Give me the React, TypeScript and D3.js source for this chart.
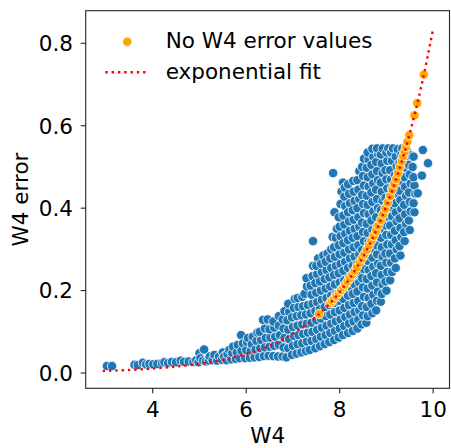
import React from 'react';
import * as d3 from 'd3';

const xTicks = [4, 6, 8, 10];
const yTicks = [0.0, 0.2, 0.4, 0.6, 0.8];
const xLabel = 'W4';
const yLabel = 'W4 error';
const legendLabels = ['No W4 error values', 'exponential fit'];

// exponential fit line
const fitX = [2.93, 3.25, 3.5, 3.75, 4.0, 4.25, 4.5, 4.75, 5.0, 5.25, 5.5, 5.75, 6.0, 6.25, 6.5, 6.75, 7.0, 7.25, 7.5, 7.75, 8.0, 8.25, 8.5, 8.75, 9.0, 9.25, 9.5, 9.75, 10.0];
const fitY = [0.005, 0.0063, 0.0075, 0.009, 0.0108, 0.013, 0.0156, 0.0187, 0.0224, 0.0268, 0.0321, 0.0385, 0.0461, 0.0553, 0.0663, 0.0794, 0.0952, 0.1141, 0.1367, 0.1638, 0.1963, 0.2352, 0.2819, 0.3378, 0.4049, 0.4852, 0.5814, 0.6968, 0.835];

// "No W4 error values" points (orange)
const noErrX = [7.56, 7.8, 7.84, 7.88, 7.93, 7.98, 8.03, 8.08, 8.12, 8.17, 8.22, 8.27, 8.32, 8.37, 8.43, 8.48, 8.53, 8.58, 8.63, 8.68, 8.73, 8.78, 8.83, 8.88, 8.93, 8.98, 9.03, 9.08, 9.13, 9.17, 9.21, 9.25, 9.29, 9.33, 9.36, 9.39, 9.42, 9.45, 9.49, 9.6, 9.66, 9.8];
const noErrY = [0.143, 0.17, 0.175, 0.18, 0.187, 0.194, 0.201, 0.208, 0.214, 0.222, 0.23, 0.239, 0.248, 0.257, 0.268, 0.278, 0.288, 0.299, 0.31, 0.321, 0.333, 0.345, 0.358, 0.371, 0.385, 0.399, 0.414, 0.429, 0.445, 0.458, 0.471, 0.485, 0.5, 0.514, 0.526, 0.537, 0.549, 0.561, 0.577, 0.625, 0.655, 0.724];

// measured points (blue), [W4, W4 error]
const cloud: number[][] = [
  [3.02,0.017],[3.13,0.017],[3.61,0.02],[3.68,0.019],[3.79,0.025],[3.86,0.021],[3.93,0.022],[4.01,0.021],[4.1,0.022],[4.2,0.024],[4.25,0.026],[4.33,0.024],[4.41,0.027],[4.5,0.026],[4.6,0.03],[4.67,0.027],[4.77,0.028],[4.87,0.027],[4.93,0.031],[4.98,0.026],
  [5.0,0.048],[5.02,0.036],[5.08,0.03],[5.1,0.057],[5.14,0.028],[5.2,0.03],[5.22,0.04],[5.28,0.031],[5.32,0.044],[5.38,0.03],[5.42,0.04],[5.48,0.032],[5.5,0.05],[5.53,0.04],[5.58,0.031],[5.6,0.046],[5.64,0.056],[5.68,0.033],[5.7,0.048],[5.72,0.064],[5.78,0.034],[5.8,0.05],[5.82,0.068],[5.86,0.036],[5.89,0.092],[5.9,0.054],[5.93,0.072],[5.98,0.036],
  [6.0,0.056],[6.02,0.075],[6.04,0.085],[6.08,0.037],[6.1,0.054],[6.12,0.07],[6.14,0.088],[6.18,0.038],[6.2,0.057],[6.22,0.078],[6.24,0.098],[6.28,0.039],[6.3,0.06],[6.32,0.08],[6.29,0.1],
  [6.38,0.041],[6.4,0.062],[6.42,0.085],[6.4,0.108],[6.36,0.129],
  [6.48,0.042],[6.5,0.064],[6.52,0.086],[6.5,0.106],[6.46,0.13],
  [6.58,0.041],[6.6,0.066],[6.62,0.088],[6.6,0.11],[6.58,0.125],
  [6.68,0.04],[6.7,0.068],[6.72,0.092],[6.7,0.115],[6.7,0.138],
  [6.78,0.04],[6.8,0.062],[6.82,0.085],[6.8,0.108],[6.78,0.13],[6.82,0.15],
  [6.86,0.038],[6.9,0.06],[6.92,0.082],[6.9,0.105],[6.88,0.128],[6.92,0.148],[6.9,0.168],
  [6.98,0.044],[7.0,0.066],[7.02,0.09],[7.0,0.112],[6.98,0.135],[7.02,0.158],[7.04,0.18],
  [7.08,0.047],[7.1,0.07],[7.12,0.092],[7.1,0.115],[7.08,0.138],[7.12,0.16],[7.1,0.182],
  [7.18,0.05],[7.2,0.072],[7.22,0.095],[7.2,0.118],[7.18,0.14],[7.22,0.162],[7.2,0.185],
  [7.28,0.053],[7.3,0.076],[7.32,0.098],[7.3,0.12],[7.28,0.142],[7.32,0.165],[7.25,0.192],[7.3,0.21],[7.29,0.23],
  [7.36,0.056],[7.4,0.078],[7.42,0.1],[7.4,0.122],[7.38,0.145],[7.42,0.168],[7.4,0.19],[7.38,0.212],[7.42,0.235],[7.43,0.26],[7.43,0.32],
  [7.48,0.06],[7.5,0.082],[7.52,0.105],[7.5,0.128],[7.48,0.15],[7.52,0.172],[7.5,0.195],[7.48,0.218],[7.52,0.24],[7.54,0.278],[7.5,0.26],
  [7.58,0.065],[7.6,0.088],[7.62,0.11],[7.6,0.132],[7.58,0.155],[7.62,0.178],[7.6,0.2],[7.58,0.222],[7.62,0.245],[7.6,0.265],[7.65,0.285],
  [7.68,0.07],[7.7,0.092],[7.72,0.115],[7.7,0.138],[7.68,0.16],[7.72,0.182],[7.7,0.205],[7.68,0.228],[7.72,0.25],[7.7,0.27],[7.74,0.29],
  [7.78,0.075],[7.8,0.097],[7.82,0.12],[7.8,0.142],[7.78,0.165],[7.82,0.188],[7.8,0.21],[7.78,0.232],[7.82,0.255],[7.8,0.278],[7.82,0.3],[7.85,0.33],
  [7.88,0.08],[7.9,0.102],[7.92,0.125],[7.9,0.148],[7.88,0.17],[7.92,0.192],[7.9,0.215],[7.88,0.238],[7.92,0.26],[7.9,0.282],[7.88,0.305],[7.92,0.328],[7.94,0.35],[7.89,0.39],[7.86,0.485],
  [7.98,0.086],[8.0,0.108],[8.02,0.13],[8.0,0.152],[7.98,0.175],[8.02,0.198],[8.0,0.22],[7.98,0.242],[8.02,0.265],[8.0,0.288],[7.98,0.31],[8.02,0.332],[8.0,0.355],[7.98,0.378],[8.02,0.41],[8.04,0.44],
  [8.07,0.092],[8.1,0.114],[8.12,0.136],[8.1,0.158],[8.08,0.18],[8.12,0.202],[8.1,0.225],[8.08,0.248],[8.12,0.27],[8.1,0.292],[8.08,0.315],[8.12,0.338],[8.1,0.36],[8.08,0.382],[8.12,0.405],[8.1,0.428],[8.07,0.462],[8.11,0.45],
  [8.18,0.097],[8.2,0.12],[8.22,0.142],[8.2,0.165],[8.18,0.188],[8.22,0.21],[8.2,0.232],[8.18,0.255],[8.22,0.278],[8.2,0.3],[8.18,0.322],[8.22,0.345],[8.2,0.368],[8.18,0.39],[8.22,0.412],[8.2,0.435],[8.18,0.458],
  [8.28,0.102],[8.3,0.125],[8.32,0.148],[8.3,0.17],[8.28,0.192],[8.32,0.215],[8.3,0.238],[8.28,0.26],[8.32,0.282],[8.3,0.305],[8.28,0.328],[8.32,0.35],[8.3,0.372],[8.28,0.395],[8.32,0.418],[8.3,0.44],[8.29,0.466],
  [8.38,0.108],[8.4,0.13],[8.42,0.152],[8.4,0.175],[8.38,0.198],[8.42,0.22],[8.4,0.242],[8.38,0.265],[8.42,0.288],[8.4,0.31],[8.38,0.332],[8.42,0.355],[8.4,0.378],[8.38,0.4],[8.42,0.422],[8.4,0.445],[8.38,0.468],[8.42,0.49],
  [8.47,0.118],[8.57,0.122],[8.5,0.14],[8.48,0.162],[8.52,0.185],[8.5,0.208],[8.48,0.23],[8.52,0.252],[8.5,0.275],[8.48,0.298],[8.52,0.32],[8.5,0.342],[8.48,0.365],[8.52,0.388],[8.5,0.41],[8.48,0.432],[8.52,0.455],[8.5,0.478],[8.48,0.5],[8.52,0.52],
  [8.6,0.138],[8.58,0.16],[8.62,0.182],[8.6,0.205],[8.58,0.228],[8.62,0.25],[8.6,0.272],[8.58,0.295],[8.62,0.318],[8.6,0.34],[8.58,0.362],[8.62,0.385],[8.6,0.408],[8.58,0.43],[8.62,0.452],[8.6,0.475],[8.58,0.498],[8.62,0.518],[8.6,0.535],
  [8.7,0.145],[8.68,0.168],[8.72,0.19],[8.7,0.212],[8.68,0.235],[8.72,0.258],[8.7,0.28],[8.68,0.302],[8.72,0.325],[8.7,0.348],[8.68,0.37],[8.72,0.392],[8.7,0.415],[8.68,0.438],[8.72,0.46],[8.7,0.482],[8.68,0.505],[8.72,0.525],[8.7,0.544],
  [8.78,0.152],[8.8,0.175],[8.82,0.198],[8.8,0.22],[8.78,0.242],[8.82,0.265],[8.8,0.288],[8.78,0.31],[8.82,0.332],[8.8,0.355],[8.78,0.378],[8.82,0.4],[8.8,0.422],[8.78,0.445],[8.82,0.468],[8.8,0.49],[8.78,0.512],[8.82,0.532],[8.8,0.545],
  [8.88,0.173],[8.9,0.192],[8.92,0.215],[8.9,0.238],[8.88,0.26],[8.92,0.282],[8.9,0.305],[8.88,0.328],[8.92,0.35],[8.9,0.372],[8.88,0.395],[8.92,0.418],[8.9,0.44],[8.88,0.462],[8.92,0.485],[8.9,0.508],[8.88,0.53],[8.92,0.545],
  [9.0,0.2],[8.98,0.222],[9.02,0.245],[9.0,0.268],[8.98,0.29],[9.02,0.312],[9.0,0.335],[8.98,0.358],[9.02,0.38],[9.0,0.402],[8.98,0.425],[9.02,0.448],[9.0,0.47],[8.98,0.492],[9.02,0.515],[9.0,0.535],[9.04,0.545],
  [9.08,0.225],[9.12,0.245],[9.1,0.268],[9.08,0.29],[9.12,0.312],[9.1,0.335],[9.08,0.358],[9.12,0.38],[9.1,0.402],[9.08,0.425],[9.12,0.448],[9.1,0.47],[9.08,0.492],[9.12,0.515],[9.1,0.535],[9.14,0.545],
  [9.2,0.255],[9.18,0.278],[9.22,0.3],[9.2,0.322],[9.18,0.345],[9.22,0.368],[9.2,0.39],[9.18,0.412],[9.22,0.435],[9.2,0.458],[9.18,0.48],[9.22,0.502],[9.2,0.525],[9.24,0.543],
  [9.3,0.285],[9.28,0.308],[9.32,0.33],[9.3,0.352],[9.28,0.375],[9.32,0.398],[9.3,0.42],[9.28,0.442],[9.32,0.465],[9.3,0.488],[9.28,0.51],[9.32,0.53],[9.34,0.545],
  [9.39,0.32],[9.38,0.342],[9.42,0.362],[9.4,0.385],[9.38,0.408],[9.42,0.43],[9.4,0.452],[9.38,0.475],[9.42,0.498],[9.4,0.52],[9.44,0.538],
  [9.5,0.347],[9.48,0.37],[9.52,0.392],[9.5,0.415],[9.48,0.438],[9.52,0.46],[9.5,0.482],[9.48,0.505],[9.52,0.528],
  [9.6,0.39],[9.58,0.412],[9.62,0.435],[9.6,0.455],[9.58,0.475],[9.56,0.5],[9.58,0.525],
  [9.67,0.436],[9.76,0.479],[9.78,0.541],[9.89,0.509]
];

const FONT = '"DejaVu Sans", sans-serif';
const FS = 21.5;
const R = 4.7;

export default function App() {
  const W = 451;
  const H = 448;
  const left = 85.7, right = 449.5, top = 10.7, bottom = 388.3;
  const x = d3.scaleLinear().domain([2.566, 10.35]).range([left, right]);
  const y = d3.scaleLinear().domain([-0.0371, 0.8791]).range([bottom, top]);
  const fitLine = d3
    .line<number>()
    .x((d) => x(d))
    .y((_, i) => y(fitY[i]))
    .curve(d3.curveMonotoneX);

  return (
    <svg
      width={W}
      height={H}
      viewBox={`0 0 ${W} ${H}`}
      style={{ position: 'absolute', left: 0, top: 0, display: 'block', background: '#fff' }}
      fontFamily={FONT}
    >
      <rect x={0} y={0} width={W} height={H} fill="#fff" />
      <defs>
        <clipPath id="plotclip">
          <rect x={left} y={top} width={right - left} height={bottom - top} />
        </clipPath>
      </defs>
      <g clipPath="url(#plotclip)">
        {cloud.map((d, i) => (
          <circle key={'c' + i} cx={x(d[0])} cy={y(d[1])} r={R} fill="#1f77b4" stroke="#fff" strokeWidth={0.8} />
        ))}
        {noErrX.map((d, i) => (
          <circle key={'o' + i} cx={x(d)} cy={y(noErrY[i])} r={R} fill="#ffa500" stroke="#fff" strokeWidth={0.8} />
        ))}
        <path d={fitLine(fitX) || ''} fill="none" stroke="#ff0000" strokeWidth={2.4} strokeDasharray="2.4 3.9" />
      </g>
      <rect x={left} y={top} width={right - left} height={bottom - top} fill="none" stroke="#222" strokeWidth={1.1} />
      {xTicks.map((t) => (
        <g key={'xt' + t}>
          <line x1={x(t)} x2={x(t)} y1={bottom} y2={bottom + 5} stroke="#222" strokeWidth={1.1} />
          <text x={x(t)} y={417.3} textAnchor="middle" fontSize={FS} fill="#000">
            {String(t)}
          </text>
        </g>
      ))}
      {yTicks.map((t) => (
        <g key={'yt' + t}>
          <line x1={left - 5} x2={left} y1={y(t)} y2={y(t)} stroke="#222" strokeWidth={1.1} />
          <text x={73} y={y(t) + 7.8} textAnchor="end" fontSize={FS} fill="#000">
            {t.toFixed(1)}
          </text>
        </g>
      ))}
      <text x={(left + right) / 2} y={443} textAnchor="middle" fontSize={FS} fill="#000">
        {xLabel}
      </text>
      <text transform={`translate(28.3, ${(top + bottom) / 2}) rotate(-90)`} textAnchor="middle" fontSize={FS} fill="#000">
        {yLabel}
      </text>
      <circle cx={127.3} cy={41.7} r={R} fill="#ffa500" stroke="#fff" strokeWidth={0.8} />
      <text x={165.7} y={48} fontSize={FS} fill="#000">
        {legendLabels[0]}
      </text>
      <line x1={105.3} x2={148} y1={72.3} y2={72.3} stroke="#ff0000" strokeWidth={2.4} strokeDasharray="2.4 3.9" />
      <text x={165.7} y={78.5} fontSize={FS} fill="#000">
        {legendLabels[1]}
      </text>
    </svg>
  );
}
